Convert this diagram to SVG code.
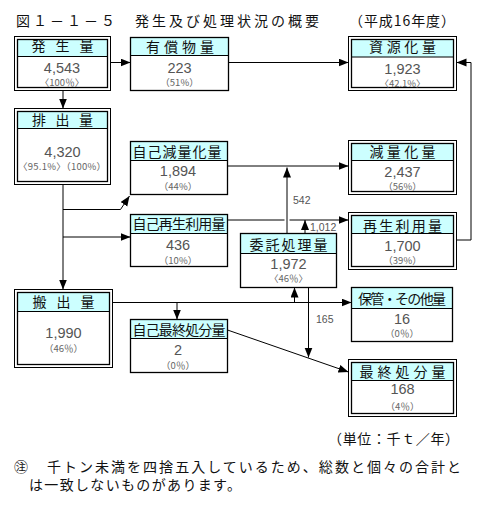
<svg xmlns="http://www.w3.org/2000/svg" width="486" height="508" viewBox="0 0 486 508">
<style>
.ttl{font-family:"Noto Sans CJK JP","Noto Sans CJK SC",sans-serif;font-size:14px;fill:#111}
.hd{font-family:"Noto Sans CJK JP","Noto Sans CJK SC",sans-serif;font-size:14px;fill:#111;text-anchor:middle}
.num{font-family:"Liberation Sans",Arial,sans-serif;font-size:14.5px;fill:#555;text-anchor:middle}
.pct{font-family:"Noto Sans CJK JP","Noto Sans CJK SC",sans-serif;font-size:9.5px;fill:#666;text-anchor:middle}
.lbl{font-family:"Liberation Sans",Arial,sans-serif;font-size:10.5px;fill:#555}
.ob{fill:#fff;stroke:#000;stroke-width:1}
.ib{fill:none;stroke:#000;stroke-width:1.3}
.sb{fill:none;stroke:#000;stroke-width:1.3}
.bg{fill:#fff}
.hf{fill:#ccffff}
.hl{stroke:#000;stroke-width:1.2}
.ln{stroke:#000;stroke-width:1;fill:none}
.ar{marker-end:url(#ah)}
</style>
<defs>
<marker id="ah" markerUnits="userSpaceOnUse" markerWidth="11" markerHeight="9" refX="10" refY="4" orient="auto">
<path d="M0,0 L10,4 L0,8 z" fill="#000"/>
</marker>
</defs>
<rect width="486" height="508" fill="#fff"/>

<text class="ttl" x="16" y="26" textLength="303" lengthAdjust="spacing">図１－１－５　発生及び処理状況の概要</text>
<text class="ttl" x="349" y="26" textLength="106" lengthAdjust="spacing">（平成16年度）</text>

<g id="connectors">
<line class="ln ar" x1="110.5" y1="62.5" x2="130.5" y2="62.5"/>
<line class="ln ar" x1="63" y1="90.5" x2="63" y2="108.5"/>
<line class="ln ar" x1="228.5" y1="62.5" x2="348.5" y2="62.5"/>
<line class="ln ar" x1="63" y1="184.5" x2="63" y2="289.5"/>
<polyline class="ln ar" points="63,209.5 120.5,209.5 129.5,196"/>
<line class="ln ar" x1="63" y1="237" x2="130.5" y2="237"/>
<line class="ln ar" x1="227.5" y1="166" x2="348.5" y2="166"/>
<line class="ln ar" x1="287" y1="233.5" x2="287" y2="167.5"/>
<line class="ln" x1="227.5" y1="220" x2="284.5" y2="220"/>
<line class="ln ar" x1="289.5" y1="220" x2="348.5" y2="220"/>
<line class="ln ar" x1="305" y1="233.5" x2="305" y2="220"/>
<polyline class="ln ar" points="456.5,240 471,240 471,62.5 456.5,62.5"/>
<line class="ln ar" x1="112.5" y1="302.5" x2="351.5" y2="302.5"/>
<line class="ln ar" x1="177" y1="302.5" x2="177" y2="319.5"/>
<line class="ln ar" x1="294.5" y1="302.5" x2="294.5" y2="287.5"/>
<line class="ln ar" x1="308.5" y1="287.5" x2="308.5" y2="357.5"/>
<line class="ln ar" x1="227.5" y1="330" x2="348.5" y2="372"/>
<text class="lbl" x="293" y="204">542</text>
<text class="lbl" x="310" y="230.5">1,012</text>
<text class="lbl" x="316" y="323">165</text>
</g>

<g id="hassei">
<rect class="ob" x="14.5" y="36.5" width="96" height="54"/>
<rect class="hf" x="17.5" y="39.5" width="90" height="17"/>
<line class="hl" x1="17.5" y1="56.5" x2="107.5" y2="56.5"/>
<rect class="ib" x="17.5" y="39.5" width="90" height="48"/>
<text class="hd" x="62.5" y="50.7" textLength="62" lengthAdjust="spacing">発 生 量</text>
<text class="num" x="62" y="72.5">4,543</text>
<text class="pct" x="62" y="85.5">〈100％〉</text>
</g>

<g id="yushobutsu">
<rect class="bg" x="130.5" y="37.5" width="98" height="53"/>
<rect class="hf" x="130.5" y="37.5" width="98" height="18"/>
<line class="hl" x1="130.5" y1="55.5" x2="228.5" y2="55.5"/>
<rect class="sb" x="130.5" y="37.5" width="98" height="53"/>
<text class="hd" x="180" y="52.3" textLength="68" lengthAdjust="spacing">有償物量</text>
<text class="num" x="179.5" y="72.8">223</text>
<text class="pct" x="179.5" y="85.5">（51%）</text>
</g>

<g id="shigenka">
<rect class="ob" x="348.5" y="36.5" width="108" height="54"/>
<rect class="hf" x="351.5" y="39.5" width="102" height="17.5"/>
<line class="hl" x1="351.5" y1="57" x2="453.5" y2="57"/>
<rect class="ib" x="351.5" y="39.5" width="102" height="48"/>
<text class="hd" x="402.5" y="52" textLength="67" lengthAdjust="spacing">資源化量</text>
<text class="num" x="402.5" y="74">1,923</text>
<text class="pct" x="402.5" y="86.5">〈42.1%〉</text>
</g>

<g id="haishutsu">
<rect class="ob" x="14.5" y="108.5" width="96" height="76"/>
<rect class="hf" x="17.5" y="111.5" width="90" height="17"/>
<line class="hl" x1="17.5" y1="128.5" x2="107.5" y2="128.5"/>
<rect class="ib" x="17.5" y="111.5" width="90" height="70"/>
<text class="hd" x="62.5" y="125" textLength="61" lengthAdjust="spacing">排 出 量</text>
<text class="num" x="62.5" y="157">4,320</text>
<text class="pct" x="62" y="169.5" textLength="88" lengthAdjust="spacing">〈95.1%〉（100%）</text>
</g>

<g id="jikogenryo">
<rect class="bg" x="130.5" y="141.5" width="97" height="53"/>
<rect class="hf" x="130.5" y="141.5" width="97" height="19"/>
<line class="hl" x1="130.5" y1="160.5" x2="227.5" y2="160.5"/>
<rect class="sb" x="130.5" y="141.5" width="97" height="53"/>
<text class="hd" x="177" y="157" textLength="89" lengthAdjust="spacing">自己減量化量</text>
<text class="num" x="178" y="176">1,894</text>
<text class="pct" x="178" y="189.5">（44%）</text>
</g>

<g id="genryoka">
<rect class="ob" x="348.5" y="140.5" width="108" height="54"/>
<rect class="hf" x="351.5" y="143.5" width="102" height="17"/>
<line class="hl" x1="351.5" y1="160.5" x2="453.5" y2="160.5"/>
<rect class="ib" x="351.5" y="143.5" width="102" height="48"/>
<text class="hd" x="402.5" y="156.5" textLength="66" lengthAdjust="spacing">減量化量</text>
<text class="num" x="402.5" y="177">2,437</text>
<text class="pct" x="402.5" y="189.5">（56%）</text>
</g>

<g id="jikosaisei">
<rect class="bg" x="130.5" y="214.5" width="97" height="52"/>
<rect class="hf" x="130.5" y="214.5" width="97" height="19"/>
<line class="hl" x1="130.5" y1="233.5" x2="227.5" y2="233.5"/>
<rect class="sb" x="130.5" y="214.5" width="97" height="52"/>
<text class="hd" x="179" y="229" textLength="93" lengthAdjust="spacing">自己再生利用量</text>
<text class="num" x="178" y="250">436</text>
<text class="pct" x="178" y="263.5">（10%）</text>
</g>

<g id="itaku">
<rect class="bg" x="240.5" y="233.5" width="96" height="54"/>
<rect class="hf" x="240.5" y="233.5" width="96" height="20"/>
<line class="hl" x1="240.5" y1="253.5" x2="336.5" y2="253.5"/>
<rect class="sb" x="240.5" y="233.5" width="96" height="54"/>
<text class="hd" x="288.5" y="249.5" textLength="78" lengthAdjust="spacing">委託処理量</text>
<text class="num" x="288.5" y="268.5">1,972</text>
<text class="pct" x="288.5" y="281.5">〈46％〉</text>
</g>

<g id="saisei">
<rect class="ob" x="348.5" y="212.5" width="108" height="57"/>
<rect class="hf" x="351.5" y="215.5" width="102" height="18"/>
<line class="hl" x1="351.5" y1="233.5" x2="453.5" y2="233.5"/>
<rect class="ib" x="351.5" y="215.5" width="102" height="51"/>
<text class="hd" x="402.5" y="230.5" textLength="79" lengthAdjust="spacing">再生利用量</text>
<text class="num" x="402.5" y="251">1,700</text>
<text class="pct" x="402.5" y="263.5">（39%）</text>
</g>

<g id="hanshutsu">
<rect class="ob" x="14.5" y="289.5" width="98" height="78"/>
<rect class="hf" x="17.5" y="292.5" width="92" height="19"/>
<line class="hl" x1="17.5" y1="311.5" x2="109.5" y2="311.5"/>
<rect class="ib" x="17.5" y="292.5" width="92" height="72"/>
<text class="hd" x="63.5" y="307" textLength="62" lengthAdjust="spacing">搬 出 量</text>
<text class="num" x="63.5" y="337.5">1,990</text>
<text class="pct" x="63.5" y="351.5">（46％）</text>
</g>

<g id="jikosaishu">
<rect class="bg" x="130.5" y="319.5" width="97" height="53"/>
<rect class="hf" x="130.5" y="319.5" width="97" height="19"/>
<line class="hl" x1="130.5" y1="338.5" x2="227.5" y2="338.5"/>
<rect class="sb" x="130.5" y="319.5" width="97" height="53"/>
<text class="hd" x="179" y="334.5" textLength="93" lengthAdjust="spacing">自己最終処分量</text>
<text class="num" x="178" y="355">2</text>
<text class="pct" x="178" y="368.5">（0％）</text>
</g>

<g id="hokan">
<rect class="bg" x="351.5" y="287.5" width="101" height="54"/>
<rect class="hf" x="351.5" y="287.5" width="101" height="21"/>
<line class="hl" x1="351.5" y1="308.5" x2="452.5" y2="308.5"/>
<rect class="sb" x="351.5" y="287.5" width="101" height="54"/>
<text class="hd" x="402" y="304" textLength="88" lengthAdjust="spacing">保管・その他量</text>
<text class="num" x="402" y="324">16</text>
<text class="pct" x="402" y="337">（0％）</text>
</g>

<g id="saishu">
<rect class="ob" x="348.5" y="359.5" width="108" height="57"/>
<rect class="hf" x="351.5" y="362.5" width="102" height="18"/>
<line class="hl" x1="351.5" y1="380.5" x2="453.5" y2="380.5"/>
<rect class="ib" x="351.5" y="362.5" width="102" height="51"/>
<text class="hd" x="402.5" y="376.5" textLength="86" lengthAdjust="spacing">最終処分量</text>
<text class="num" x="402.5" y="394">168</text>
<text class="pct" x="402.5" y="409.5">（4％）</text>
</g>

<text class="ttl" x="328" y="444" textLength="131" lengthAdjust="spacing">（単位：千ｔ／年）</text>
<text class="ttl" x="14" y="471.5">㊟</text>
<text class="ttl" x="47" y="471.5" textLength="414" lengthAdjust="spacing">千トン未満を四捨五入しているため、総数と個々の合計と</text>
<text class="ttl" x="29" y="490" textLength="212" lengthAdjust="spacing">は一致しないものがあります。</text>
</svg>
